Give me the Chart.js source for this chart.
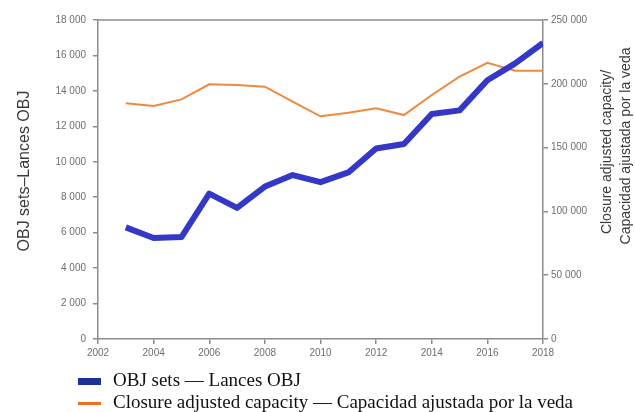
<!DOCTYPE html>
<html>
<head>
<meta charset="utf-8">
<script src="https://cdn.jsdelivr.net/npm/chart.js@4.4.1/dist/chart.umd.min.js"></script>
<style>
  body { margin: 0; background: #fff; }
  #wrap { position: relative; width: 635px; height: 412px; }
  .legend-row { position: absolute; left: 78px; font-family: "Liberation Serif", "Times New Roman", serif; font-size: 19px; color: #111; white-space: nowrap; }
  .swatch { display: inline-block; width: 23px; vertical-align: middle; margin-right: 12px; }
</style>
</head>
<body>
<div id="wrap">
  <canvas id="myChart" width="635" height="412"></canvas>
  <div class="legend-row" style="top: 369px;"><span class="swatch" style="height: 7px; background: #1e3193;"></span>OBJ sets — Lances OBJ</div>
  <div class="legend-row" style="top: 391px;"><span class="swatch" style="height: 3px; background: #f07020;"></span>Closure adjusted capacity — Capacidad ajustada por la veda</div>
</div>
<script>
// data
var years = [2003, 2004, 2005, 2006, 2007, 2008, 2009, 2010, 2011, 2012, 2013, 2014, 2015, 2016, 2017, 2018];
var objSets = [6300, 5700, 5750, 8200, 7400, 8600, 9250, 8850, 9400, 10750, 11000, 12700, 12900, 14600, 15550, 16700];
var capacity = [184700, 182600, 187800, 199600, 199100, 197700, 186000, 174500, 177400, 180800, 175500, 191200, 205600, 216500, 210300, 210300];
var leftTitle = 'OBJ sets–Lances OBJ';
var rightTitle = ['Closure adjusted capacity/', 'Capacidad ajustada por la veda'];

function spaced(v) {
    return String(v).replace(/\B(?=(\d{3})+(?!\d))/g, ' ');
}

var axisGray = '#8c8c8c';
var tickFont = { family: 'Liberation Sans, Arial, sans-serif', size: 10 };

// draw a rotated (bottom-to-top) title centred on x, y
function drawTitle(ctx, text, x, y, size) {
    ctx.save();
    ctx.fillStyle = '#3a3a3a';
    ctx.textAlign = 'center';
    ctx.textBaseline = 'middle';
    ctx.font = size + 'px "Liberation Sans", Arial, sans-serif';
    ctx.translate(x, y);
    ctx.rotate(-Math.PI / 2);
    ctx.fillText(text, 0, 0);
    ctx.restore();
}

// top side of the frame + the axis titles
var framePlugin = {
    id: 'frame',
    afterDraw: function (chart) {
        var ctx = chart.ctx;
        var a = chart.chartArea;
        ctx.save();
        ctx.strokeStyle = axisGray;
        ctx.lineWidth = 1.5;
        ctx.beginPath();
        ctx.moveTo(a.left, a.top);
        ctx.lineTo(a.right, a.top);
        ctx.stroke();
        ctx.restore();

        drawTitle(ctx, leftTitle, 25, 171, 16);
        drawTitle(ctx, rightTitle[0], 607, 152, 14);
        drawTitle(ctx, rightTitle[1], 626, 146, 14);
    }
};

window.onload = function () {
    var ctx = document.getElementById('myChart').getContext('2d');
    var myChart = new Chart(ctx, {
        type: 'line',
        data: {
            datasets: [{
                label: 'OBJ sets — Lances OBJ',
                data: years.map(function (y, i) { return { x: y, y: objSets[i] }; }),
                borderColor: '#3438c6',
                borderWidth: 6,
                pointRadius: 0,
                tension: 0,
                borderJoinStyle: 'round',
                yAxisID: 'y'
            },
            {
                label: 'Closure adjusted capacity — Capacidad ajustada por la veda',
                data: years.map(function (y, i) { return { x: y, y: capacity[i] }; }),
                borderColor: '#f0893e',
                borderWidth: 2,
                pointRadius: 0,
                tension: 0,
                yAxisID: 'y1'
            }]
        },
        options: {
            responsive: false,
            animation: false,
            layout: { padding: { top: 20, left: 0, right: 0, bottom: 0 } },
            plugins: {
                legend: { display: false },
                tooltip: { enabled: false }
            },
            scales: {
                x: {
                    type: 'linear',
                    min: 2002,
                    max: 2018,
                    afterFit: function (s) { s.height = 73; },
                    ticks: { stepSize: 2, color: '#6e6e6e', font: tickFont, padding: 3, maxRotation: 0,
                        callback: function (v) { return String(v); } },
                    grid: { drawOnChartArea: false, tickLength: 5, color: axisGray, lineWidth: 1.5 },
                    border: { color: axisGray, width: 1.5 }
                },
                y: {
                    position: 'left',
                    min: 0,
                    max: 18000,
                    afterFit: function (s) { s.width = 98; },
                    ticks: { stepSize: 2000, color: '#6e6e6e', font: tickFont, padding: 7,
                        callback: function (v) { return spaced(v); } },
                    grid: { drawOnChartArea: false, tickLength: 5, color: axisGray, lineWidth: 1.5 },
                    border: { color: axisGray, width: 1.5 }
                },
                y1: {
                    position: 'right',
                    min: 0,
                    max: 250000,
                    afterFit: function (s) { s.width = 92; },
                    ticks: { stepSize: 50000, color: '#6e6e6e', font: tickFont, padding: 3,
                        callback: function (v) { return spaced(v); } },
                    grid: { drawOnChartArea: false, tickLength: 5, color: axisGray, lineWidth: 1.5 },
                    border: { color: axisGray, width: 1.5 }
                }
            }
        },
        plugins: [framePlugin]
    });
};
</script>
</body>
</html>
